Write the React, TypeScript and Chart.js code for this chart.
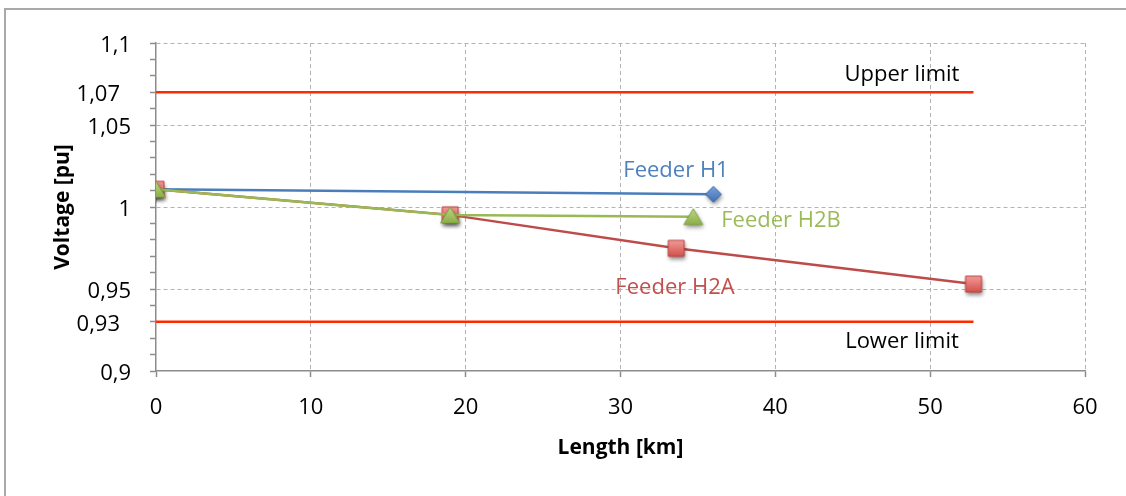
import { useEffect, useRef } from "react";
import { Chart, registerables } from "chart.js";

Chart.register(...registerables);

// Feeder voltage profiles: distance along the feeder [km] and voltage [pu]
const feederH1Km = [0, 36];
const feederH1Pu = [1.0108, 1.0077];
const feederH2AKm = [0, 19, 33.6, 52.8];
const feederH2APu = [1.0108, 0.9952, 0.9748, 0.953];
const feederH2BKm = [0, 19, 34.7];
const feederH2BPu = [1.0108, 0.9951, 0.9941];

// Statutory voltage band
const limitKm = [0, 52.8];
const upperLimitPu = [1.07, 1.07];
const lowerLimitPu = [0.93, 0.93];

// Axes
const xTickValues = [0, 10, 20, 30, 40, 50, 60];
const yTickValues = [0.9, 0.95, 1, 1.05, 1.1];
const yBandValues = [0.93, 1.07];
const yMinorStep = 0.01;

const FONT = '"Open Sans", "Noto Sans", sans-serif';

const toPoints = (xs: number[], ys: number[]) => xs.map((x, i) => ({ x, y: ys[i] }));
const fmt = (v: number) => String(v).replace(".", ",");

function makeMarker(
  shape: "diamond" | "square" | "triangle",
  light: string,
  dark: string,
  edge: string
): HTMLCanvasElement {
  const c = document.createElement("canvas");
  c.width = 30;
  c.height = 30;
  const g = c.getContext("2d")!;
  const cx = 15;
  const cy = 15;
  const p = new Path2D();
  if (shape === "square") {
    p.rect(cx - 8, cy - 8, 16, 16);
  } else if (shape === "diamond") {
    p.moveTo(cx, cy - 8);
    p.lineTo(cx + 8, cy);
    p.lineTo(cx, cy + 8);
    p.lineTo(cx - 8, cy);
    p.closePath();
  } else {
    p.moveTo(cx, cy - 8);
    p.lineTo(cx + 9.5, cy + 8);
    p.lineTo(cx - 9.5, cy + 8);
    p.closePath();
  }
  g.save();
  g.shadowColor = "rgba(0,0,0,0.45)";
  g.shadowBlur = 4;
  g.shadowOffsetX = 1;
  g.shadowOffsetY = 2.5;
  const grad = g.createLinearGradient(0, cy - 8, 0, cy + 8);
  grad.addColorStop(0, light);
  grad.addColorStop(1, dark);
  g.fillStyle = grad;
  g.fill(p);
  g.restore();
  g.strokeStyle = edge;
  g.lineWidth = 1;
  g.stroke(p);
  return c;
}

const textPlugin = {
  id: "voltageText",
  afterDraw(chart: any) {
    const { ctx, chartArea, scales } = chart;
    const x = scales.x;
    const y = scales.y;
    ctx.save();
    ctx.fillStyle = "#000";
    ctx.font = `22px ${FONT}`;
    ctx.textBaseline = "middle";

    // y tick labels
    ctx.textAlign = "right";
    yTickValues.forEach((v) => ctx.fillText(fmt(v), chartArea.left - 25, y.getPixelForValue(v) + 3));
    yBandValues.forEach((v) => ctx.fillText(fmt(v), chartArea.left - 36, y.getPixelForValue(v) + 3));

    // x tick labels
    ctx.textAlign = "center";
    xTickValues.forEach((v) => ctx.fillText(String(v), x.getPixelForValue(v), chartArea.bottom + 37));

    // axis titles
    ctx.font = `bold 21px ${FONT}`;
    ctx.fillText("Length [km]", (chartArea.left + chartArea.right) / 2, chartArea.bottom + 77);
    ctx.save();
    ctx.translate(63, (chartArea.top + chartArea.bottom) / 2);
    ctx.rotate(-Math.PI / 2);
    ctx.fillText("Voltage [pu]", 0, 0);
    ctx.restore();

    // series and limit labels
    ctx.font = `22px ${FONT}`;
    ctx.fillStyle = "#000";
    ctx.fillText("Upper limit", 902, 75);
    ctx.fillText("Lower limit", 902, 342);
    ctx.fillStyle = "#4F81BD";
    ctx.fillText("Feeder H1", 676, 171);
    ctx.fillStyle = "#9BBB59";
    ctx.fillText("Feeder H2B", 781, 221);
    ctx.fillStyle = "#C0504D";
    ctx.fillText("Feeder H2A", 675, 288);
    ctx.restore();
  },
};

export default function App() {
  const ref = useRef<HTMLCanvasElement | null>(null);

  useEffect(() => {
    if (!ref.current) return;
    const diamond = makeMarker("diamond", "#7ba3dc", "#3f6fb0", "#3b69a8");
    const square = makeMarker("square", "#f29a96", "#d2514c", "#b9413e");
    const triangle = makeMarker("triangle", "#bcd884", "#8cae48", "#7f9f40");
    const majorY = new Set(yTickValues.map((v) => Math.round(v * 100)));

    const chart = new Chart(ref.current, {
      type: "scatter",
      data: {
        datasets: [
          {
            label: "Feeder H2B",
            data: toPoints(feederH2BKm, feederH2BPu),
            showLine: true,
            borderColor: "#98B954",
            borderWidth: 2.5,
            pointStyle: triangle,
            pointRadius: 8,
          },
          {
            label: "Feeder H2A",
            data: toPoints(feederH2AKm, feederH2APu),
            showLine: true,
            borderColor: "#BE4B48",
            borderWidth: 2.5,
            pointStyle: square,
            pointRadius: 8,
          },
          {
            label: "Feeder H1",
            data: toPoints(feederH1Km, feederH1Pu),
            showLine: true,
            borderColor: "#4A7EBB",
            borderWidth: 2.5,
            pointStyle: diamond,
            pointRadius: 8,
          },
          {
            label: "Upper limit",
            data: toPoints(limitKm, upperLimitPu),
            showLine: true,
            borderColor: "#FF2A00",
            borderWidth: 2.5,
            pointRadius: 0,
          },
          {
            label: "Lower limit",
            data: toPoints(limitKm, lowerLimitPu),
            showLine: true,
            borderColor: "#FF2A00",
            borderWidth: 2.5,
            pointRadius: 0,
          },
        ],
      },
      options: {
        responsive: false,
        animation: false,
        events: [],
        layout: { padding: { top: 43, right: 41, left: 0, bottom: 0 } },
        plugins: { legend: { display: false }, tooltip: { enabled: false } },
        scales: {
          x: {
            type: "linear",
            min: 0,
            max: 60,
            afterBuildTicks: (s: any) => {
              s.ticks = xTickValues.map((value) => ({ value }));
            },
            afterFit: (s: any) => {
              s.height = 125;
            },
            ticks: { display: false },
            grid: {
              color: (c: any) => (c.tick && c.tick.value === 0 ? "rgba(0,0,0,0)" : "#b3b3b3"),
              lineWidth: 1,
              tickLength: 6,
              tickColor: "#8c8c8c",
              tickWidth: 1.5,
              tickBorderDash: [],
            },
            border: { color: "#8c8c8c", width: 1.5, dash: [4, 3] },
          },
          y: {
            type: "linear",
            min: 0.9,
            max: 1.1,
            afterBuildTicks: (s: any) => {
              const t = [];
              for (let k = 0; k <= 20; k++) t.push({ value: Math.round((0.9 + k * yMinorStep) * 100) / 100 });
              s.ticks = t;
            },
            afterFit: (s: any) => {
              s.width = 156;
            },
            ticks: { display: false },
            grid: {
              color: (c: any) => {
                const k = c.tick ? Math.round(c.tick.value * 100) : -1;
                return majorY.has(k) && k !== 90 ? "#b3b3b3" : "rgba(0,0,0,0)";
              },
              lineWidth: 1,
              tickLength: 6,
              tickColor: "#8c8c8c",
              tickWidth: 1.5,
              tickBorderDash: [],
            },
            border: { color: "#8c8c8c", width: 1.5, dash: [4, 3] },
          },
        },
      },
      plugins: [textPlugin],
    } as any);

    return () => chart.destroy();
  }, []);

  return (
    <div style={{ position: "fixed", left: 0, top: 0, width: 1126, height: 496, overflow: "hidden", background: "#fff" }}>
      <div
        style={{
          position: "absolute",
          left: 4,
          top: 8,
          width: 3000,
          height: 3000,
          borderTop: "2px solid #a9a9a9",
          borderLeft: "2px solid #a9a9a9",
        }}
      />
      <canvas
        ref={ref}
        width={1126}
        height={496}
        style={{ position: "absolute", left: 0, top: 0, display: "block" }}
      />
    </div>
  );
}
